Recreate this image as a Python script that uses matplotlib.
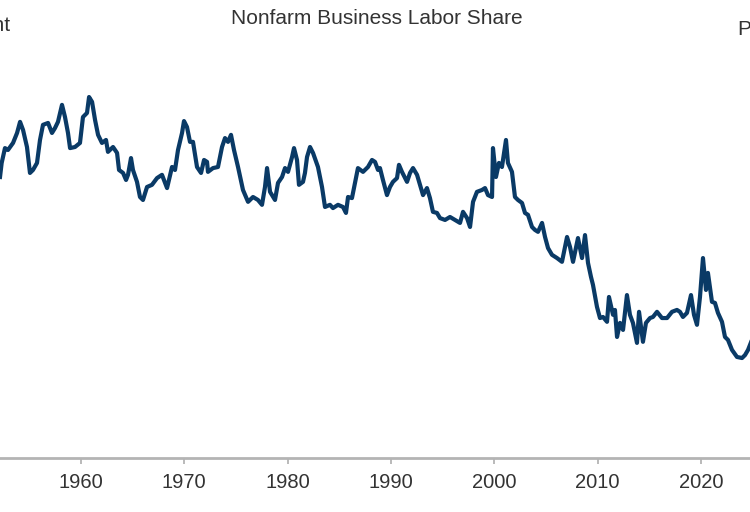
import matplotlib.pyplot as plt
import numpy as np

# Nonfarm business labor share, percent
years = [
    1952.16, 1952.32, 1952.64, 1952.93, 1953.42, 1953.81, 1954.10, 1954.39, 1954.77, 1955.06,
    1955.35, 1955.74, 1956.03, 1956.32, 1956.81, 1957.19, 1957.48, 1957.77, 1958.16, 1958.45,
    1958.74, 1958.94, 1959.42, 1959.90, 1960.19, 1960.58, 1960.78, 1961.07, 1961.36, 1961.65,
    1962.03, 1962.42, 1962.61, 1963.10, 1963.49, 1963.68, 1964.07, 1964.36, 1964.55, 1964.84,
    1965.03, 1965.42, 1965.71, 1966.00, 1966.39, 1966.87, 1967.36, 1967.84, 1968.33, 1968.81,
    1969.10, 1969.39, 1969.78, 1969.97, 1970.26, 1970.55, 1970.84, 1971.23, 1971.62, 1971.91,
    1972.20, 1972.29, 1972.78, 1973.26, 1973.65, 1973.94, 1974.23, 1974.52, 1974.81, 1975.20,
    1975.68, 1976.17, 1976.65, 1977.13, 1977.52, 1977.81, 1978.01, 1978.30, 1978.78, 1979.07,
    1979.46, 1979.75, 1980.04, 1980.43, 1980.62, 1980.91, 1981.10, 1981.49, 1981.68, 1981.88,
    1982.17, 1982.46, 1982.94, 1983.33, 1983.62, 1984.10, 1984.39, 1984.88, 1985.36, 1985.65,
    1985.85, 1986.23, 1986.52, 1986.81, 1987.30, 1987.78, 1988.17, 1988.46, 1988.75, 1988.94,
    1989.23, 1989.62, 1989.91, 1990.20, 1990.59, 1990.78, 1991.07, 1991.56, 1991.85, 1992.14,
    1992.53, 1992.82, 1993.11, 1993.49, 1993.78, 1994.07, 1994.46, 1994.75, 1995.24, 1995.72,
    1996.20, 1996.69, 1996.98, 1997.37, 1997.66, 1997.95, 1998.33, 1998.82, 1999.11, 1999.40,
    1999.79, 1999.88, 2000.17, 2000.46, 2000.75, 2001.14, 2001.33, 2001.72, 2002.01, 2002.30,
    2002.69, 2002.98, 2003.27, 2003.66, 2003.95, 2004.24, 2004.63, 2004.92, 2005.21, 2005.59,
    2006.08, 2006.56, 2007.05, 2007.34, 2007.63, 2008.01, 2008.11, 2008.50, 2008.79, 2009.08,
    2009.37, 2009.56, 2009.95, 2010.24, 2010.53, 2010.92, 2011.11, 2011.50, 2011.69, 2011.89,
    2012.18, 2012.47, 2012.85, 2013.14, 2013.43, 2013.82, 2014.02, 2014.40, 2014.69, 2015.08,
    2015.37, 2015.76, 2016.24, 2016.73, 2017.21, 2017.69, 2017.98, 2018.27, 2018.66, 2019.05,
    2019.34, 2019.63, 2019.92, 2020.21, 2020.50, 2020.69, 2021.08, 2021.37, 2021.66, 2022.05,
    2022.34, 2022.63, 2023.02, 2023.50, 2023.99, 2024.28, 2024.57, 2024.95,
]
labor_share = [
    62.50, 63.02, 63.57, 63.50, 63.76, 64.13, 64.54, 64.24, 63.61, 62.65,
    62.76, 63.02, 63.87, 64.43, 64.50, 64.13, 64.31, 64.54, 65.17, 64.72,
    64.13, 63.57, 63.61, 63.76, 64.72, 64.87, 65.46, 65.28, 64.61, 64.06,
    63.76, 63.87, 63.43, 63.61, 63.39, 62.76, 62.65, 62.39, 62.58, 63.20,
    62.76, 62.32, 61.76, 61.65, 62.13, 62.21, 62.46, 62.58, 62.09, 62.87,
    62.76, 63.50, 64.13, 64.57, 64.35, 63.80, 63.80, 62.87, 62.65, 63.13,
    63.06, 62.69, 62.83, 62.87, 63.61, 63.94, 63.80, 64.06, 63.50, 62.87,
    62.02, 61.58, 61.76, 61.65, 61.47, 62.13, 62.83, 61.95, 61.65, 62.28,
    62.50, 62.83, 62.69, 63.24, 63.57, 63.13, 62.21, 62.32, 62.65, 63.24,
    63.61, 63.39, 62.87, 62.13, 61.39, 61.47, 61.35, 61.47, 61.39, 61.17,
    61.76, 61.72, 62.28, 62.83, 62.69, 62.87, 63.13, 63.06, 62.76, 62.83,
    62.39, 61.83, 62.13, 62.32, 62.46, 62.95, 62.69, 62.32, 62.65, 62.83,
    62.58, 62.21, 61.83, 62.09, 61.72, 61.21, 61.17, 60.98, 60.91, 61.02,
    60.91, 60.80, 61.21, 60.98, 60.65, 61.58, 61.95, 62.02, 62.09, 61.83,
    61.76, 63.57, 62.50, 63.02, 62.87, 63.87, 63.02, 62.69, 61.76, 61.65,
    61.54, 61.17, 61.10, 60.65, 60.54, 60.47, 60.80, 60.28, 59.87, 59.62,
    59.50, 59.36, 60.28, 59.91, 59.36, 60.06, 60.24, 59.50, 60.35, 59.32,
    58.80, 58.51, 57.69, 57.28, 57.32, 57.14, 58.06, 57.40, 57.58, 56.58,
    57.10, 56.84, 58.13, 57.40, 57.10, 56.36, 57.51, 56.40, 57.10, 57.28,
    57.32, 57.51, 57.28, 57.28, 57.51, 57.58, 57.51, 57.32, 57.47, 58.13,
    57.40, 57.03, 58.06, 59.50, 58.32, 58.95, 57.88, 57.84, 57.47, 57.14,
    56.58, 56.47, 56.10, 55.84, 55.80, 55.91, 56.10, 56.47,
]
tick_years = [1950, 1960, 1970, 1980, 1990, 2000, 2010, 2020]

plt.rcParams["font.family"] = ["Liberation Sans", "DejaVu Sans"]

fig = plt.figure(figsize=(7.5, 5.12), dpi=100)
# the chart is a crop of a wider one, so the axes run past the figure edges
ax = fig.add_axes([-60 / 750, 54 / 512, 870 / 750, 413 / 512])

ax.plot(years, labor_share, color="#0a3a66", linewidth=3.0, solid_joinstyle="round")

ax.set_xlim(1946.35, 2030.57)
ax.set_ylim(52.10, 67.385)
ax.set_xticks(tick_years)
ax.set_xticklabels([str(y) for y in tick_years])
ax.set_yticks([])

for side in ["top", "left", "right"]:
    ax.spines[side].set_visible(False)
ax.spines["bottom"].set_color("#b4b4b4")
ax.spines["bottom"].set_linewidth(2.0)
ax.tick_params(axis="x", direction="out", length=4, width=1.3, color="#b4b4b4",
               labelsize=14.5, labelcolor="#333333", pad=7)

fig.text(377 / 750, 1 - 24 / 512, "Nonfarm Business Labor Share", ha="center",
         va="baseline", fontsize=15, color="#333333")
fig.text(10 / 750, 1 - 31 / 512, "Percent", ha="right", va="baseline",
         fontsize=15, color="#333333")
fig.text(737 / 750, 1 - 35 / 512, "Percent", ha="left", va="baseline",
         fontsize=15, color="#333333")

fig.savefig("out.png", dpi=100)
